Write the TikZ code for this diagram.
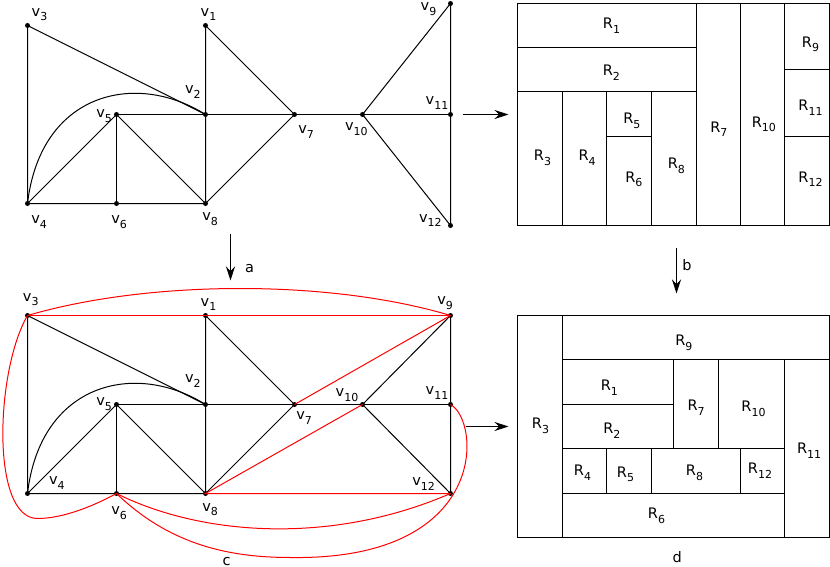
\documentclass[tikz,border=0pt]{standalone}
\usepackage{fontspec}
\setmainfont{DejaVu Sans}
\usetikzlibrary{arrows.meta}
\newcommand\lb[2]{#1\raisebox{-4.6pt}{\fontsize{11}{12}\selectfont #2}}
\begin{document}
\begin{tikzpicture}[x=1pt,y=-1pt,
  vtx/.style={circle,fill=black,inner sep=0pt,minimum size=5pt},
  edge/.style={line width=1pt,black},
  redge/.style={line width=1pt,red},
  lbl/.style={anchor=base west,inner sep=0pt,font=\fontsize{14.5}{16}\selectfont},
  rlbl/.style={anchor=base,inner sep=0pt,font=\fontsize{14.5}{16}\selectfont},
  box/.style={line width=1pt},
  arr/.style={line width=1pt,-{Stealth[length=14pt,width=9pt]}}
]
\useasboundingbox (0,0) rectangle (830,567);
\begin{scope}[shift={(0.5,0.5)}]
% ---------- top graph ----------
\node[vtx] (t1) at (205,25) {};
\node[vtx] (t2) at (205,114) {};
\node[vtx] (t3) at (27,25) {};
\node[vtx] (t4) at (27,203) {};
\node[vtx] (t5) at (116,114) {};
\node[vtx] (t6) at (116,203) {};
\node[vtx] (t7) at (294,114) {};
\node[vtx] (t8) at (205,203) {};
\node[vtx] (t9) at (450,3) {};
\node[vtx] (t10) at (362,114) {};
\node[vtx] (t11) at (450,114) {};
\node[vtx] (t12) at (450,225) {};
\draw[edge] (t3.center) -- (t4.center) -- (t6.center) -- (t8.center) -- (t2.center) -- (t1.center) -- (t7.center) -- (t8.center) -- (t5.center) -- (t4.center);
\draw[edge] (t3.center) -- (t2.center);
\draw[edge] (t5.center) -- (t2.center) -- (t7.center) -- (t10.center) -- (t11.center);
\draw[edge] (t5.center) -- (t6.center);
\draw[edge] (t9.center) -- (t10.center) -- (t12.center) -- (t11.center) -- (t9.center);
\draw[edge] (t4.center) .. controls (40,92) and (135,70) .. (t2.center);
\node[lbl] (lt3) at (31,15.7) {\lb{v}{3}};
\node[lbl] (lt1) at (200,15.7) {\lb{v}{1}};
\node[lbl] (lt2) at (184.3,93.3) {\lb{v}{2}};
\node[lbl] (lt5) at (95.7,117.3) {\lb{v}{5}};
\node[lbl] (lt7) at (297.7,133.3) {\lb{v}{7}};
\node[lbl] (lt10) at (344.3,130) {\lb{v}{10}};
\node[lbl] (lt11) at (425,104) {\lb{v}{11}};
\node[lbl] (lt9) at (420,10) {\lb{v}{9}};
\node[lbl] (lt12) at (418.3,221.7) {\lb{v}{12}};
\node[lbl] (lt4) at (30.7,223.3) {\lb{v}{4}};
\node[lbl] (lt6) at (110.7,223.3) {\lb{v}{6}};
\node[lbl] (lt8) at (201.7,220) {\lb{v}{8}};

% ---------- bottom graph ----------
\node[vtx] (b1) at (205,315) {};
\node[vtx] (b2) at (205,404) {};
\node[vtx] (b3) at (27,315) {};
\node[vtx] (b4) at (27,493) {};
\node[vtx] (b5) at (116,404) {};
\node[vtx] (b6) at (116,493) {};
\node[vtx] (b7) at (294,404) {};
\node[vtx] (b8) at (205,493) {};
\node[vtx] (b9) at (450,315) {};
\node[vtx] (b10) at (362,404) {};
\node[vtx] (b11) at (450,404) {};
\node[vtx] (b12) at (450,493) {};
\draw[edge] (b3.center) -- (b4.center) -- (b6.center) -- (b8.center) -- (b2.center) -- (b1.center) -- (b7.center) -- (b8.center) -- (b5.center) -- (b4.center);
\draw[edge] (b3.center) -- (b2.center);
\draw[edge] (b5.center) -- (b2.center) -- (b7.center) -- (b10.center) -- (b11.center);
\draw[edge] (b5.center) -- (b6.center);
\draw[edge] (b9.center) -- (b10.center) -- (b12.center) -- (b11.center) -- (b9.center);
\draw[edge] (b4.center) .. controls (40,382) and (135,360) .. (b2.center);
% red edges
\draw[redge] (b3.center) -- (b9.center);
\draw[redge] (b9.center) -- (b7.center);
\draw[redge] (b10.center) -- (b8.center) -- (b12.center);
\draw[redge] (b3.center) .. controls (150,279) and (330,279) .. (b9.center);
\draw[redge] (b3.center) .. controls (-5,370) and (-10,518) .. (37,518) .. controls (62,518) and (92,506) .. (b6.center);
\draw[redge] (b6.center) .. controls (200,535) and (330,545) .. (b12.center);
\draw[redge] (b6.center) .. controls (170,545) and (230,557) .. (290,557) .. controls (490,560) and (480,420) .. (b11.center);
\node[lbl] (lb3) at (22.3,300.7) {\lb{v}{3}};
\node[lbl] (lb1) at (200,305.7) {\lb{v}{1}};
\node[lbl] (lb9) at (436.7,304) {\lb{v}{9}};
\node[lbl] (lb2) at (184.3,382.3) {\lb{v}{2}};
\node[lbl] (lb5) at (95.7,405) {\lb{v}{5}};
\node[lbl] (lb10) at (335,396) {\lb{v}{10}};
\node[lbl] (lb11) at (425,394) {\lb{v}{11}};
\node[lbl] (lb7) at (295.7,419) {\lb{v}{7}};
\node[lbl] (lb4) at (48.3,484) {\lb{v}{4}};
\node[lbl] (lb12) at (411.7,485) {\lb{v}{12}};
\node[lbl] (lb6) at (110.7,514) {\lb{v}{6}};
\node[lbl] (lb8) at (201.7,510.7) {\lb{v}{8}};
\node[rlbl] (lc) at (226,564.5) {c};

% ---------- top-right rectangles ----------
\draw[box] (517,3) rectangle (829,225);
\draw[box] (517,47) -- (696,47);
\draw[box] (517,91) -- (696,91);
\draw[box] (562,91) -- (562,225);
\draw[box] (606,91) -- (606,225);
\draw[box] (651,91) -- (651,225);
\draw[box] (606,136) -- (651,136);
\draw[box] (696,3) -- (696,225);
\draw[box] (740,3) -- (740,225);
\draw[box] (784,3) -- (784,225);
\draw[box] (784,69) -- (829,69);
\draw[box] (784,136) -- (829,136);
\node[rlbl] at (611,28.3) {\lb{R}{1}};
\node[rlbl] at (610.8,75) {\lb{R}{2}};
\node[rlbl] at (542,160) {\lb{R}{3}};
\node[rlbl] at (586.7,160) {\lb{R}{4}};
\node[rlbl] at (631.3,123.3) {\lb{R}{5}};
\node[rlbl] at (633.3,181.7) {\lb{R}{6}};
\node[rlbl] at (675.8,168.3) {\lb{R}{8}};
\node[rlbl] at (718.3,131.7) {\lb{R}{7}};
\node[rlbl] at (763.3,126.7) {\lb{R}{10}};
\node[rlbl] at (810,46.7) {\lb{R}{9}};
\node[rlbl] at (810,110) {\lb{R}{11}};
\node[rlbl] at (810,181.7) {\lb{R}{12}};

% ---------- bottom-right rectangles ----------
\draw[box] (517,315) rectangle (829,537);
\draw[box] (562,315) -- (562,537);
\draw[box] (562,359) -- (829,359);
\draw[box] (784,359) -- (784,537);
\draw[box] (562,404) -- (673,404);
\draw[box] (673,359) -- (673,448);
\draw[box] (718,359) -- (718,448);
\draw[box] (562,448) -- (784,448);
\draw[box] (606,448) -- (606,493);
\draw[box] (651,448) -- (651,493);
\draw[box] (740,448) -- (740,493);
\draw[box] (562,493) -- (784,493);
\node[rlbl] at (683.3,345) {\lb{R}{9}};
\node[rlbl] at (608.8,390) {\lb{R}{1}};
\node[rlbl] at (611.3,433.3) {\lb{R}{2}};
\node[rlbl] at (695.7,410) {\lb{R}{7}};
\node[rlbl] at (753,411) {\lb{R}{10}};
\node[rlbl] at (540,428.3) {\lb{R}{3}};
\node[rlbl] at (808.7,453.3) {\lb{R}{11}};
\node[rlbl] at (582,475) {\lb{R}{4}};
\node[rlbl] at (625,476.7) {\lb{R}{5}};
\node[rlbl] at (694,475) {\lb{R}{8}};
\node[rlbl] at (759.5,473.3) {\lb{R}{12}};
\node[rlbl] at (656,518.3) {\lb{R}{6}};
\node[rlbl] (ld) at (676.7,561.7) {d};

% ---------- arrows ----------
\coordinate (aS) at (230,233);
\coordinate (aE) at (230,280);
\draw[arr] (aS) -- (aE);
\node[lbl] (la) at (244.3,272.3) {a};
\coordinate (bS) at (676,247);
\coordinate (bE) at (676,293);
\draw[arr] (bS) -- (bE);
\node[lbl] (lbb) at (681.7,270) {b};
\coordinate (hS) at (462,114);
\coordinate (hE) at (508,114);
\draw[arr] (hS) -- (hE);
\coordinate (gS) at (465,426);
\coordinate (gE) at (508,426);
\draw[arr] (gS) -- (gE);
\end{scope}
\end{tikzpicture}
\end{document}
